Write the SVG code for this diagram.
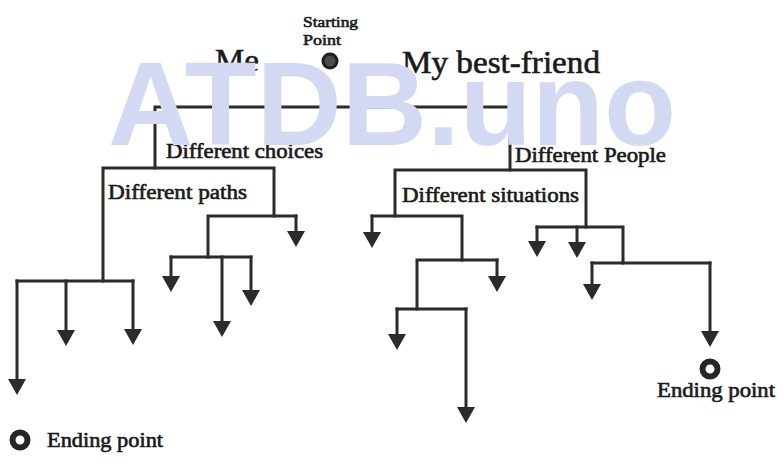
<svg xmlns="http://www.w3.org/2000/svg" width="783" height="466" viewBox="0 0 783 466">
<style>
.bg{fill:#ffffff}
.ln{fill:none;stroke:#2b2b2b;stroke-width:3;stroke-linejoin:miter;stroke-linecap:square}
.ar{marker-end:url(#ah)}
.lbl{font-family:"Liberation Serif","Times New Roman",serif;fill:#1a1a1a;stroke:#1a1a1a;stroke-width:0.6}
.big{font-size:32px}
.mid{font-size:20px}
.sml{font-size:15px}
.ring{fill:none;stroke:#262626;stroke-width:6}
.wm{font-family:"Liberation Sans",Arial,sans-serif;font-size:118px;font-weight:bold;fill:#d3d9f2}
</style>
<defs>
<marker id="ah" markerUnits="userSpaceOnUse" markerWidth="17" markerHeight="18" refX="6" refY="9" orient="auto">
<path d="M0,0 L16,9 L0,18 Z" fill="#2b2b2b"/>
</marker>
</defs>
<rect class="bg" x="0" y="0" width="783" height="466"/>
<g id="connectors">
<path class="ln" d="M155,168 V107 H510 V170"/>
<path class="ln" d="M103,281 V168 H274 V216"/>
<path class="ln" d="M208,257 V216 H296"/>
<path class="ln ar" d="M296,216 V237"/>
<path class="ln" d="M171,257 H251"/>
<path class="ln ar" d="M171,257 V282"/>
<path class="ln ar" d="M222,257 V327"/>
<path class="ln ar" d="M251,257 V296"/>
<path class="ln" d="M17,281 H133"/>
<path class="ln ar" d="M17,281 V385"/>
<path class="ln ar" d="M66,281 V336"/>
<path class="ln ar" d="M133,281 V335"/>
<path class="ln" d="M395,216 V170 H586 V227"/>
<path class="ln" d="M372,216 H462 V260"/>
<path class="ln ar" d="M372,216 V238"/>
<path class="ln" d="M417,309 V260 H497"/>
<path class="ln ar" d="M497,260 V282"/>
<path class="ln" d="M397,309 H466"/>
<path class="ln ar" d="M397,309 V340"/>
<path class="ln ar" d="M466,309 V413"/>
<path class="ln" d="M537,227 H623 V263"/>
<path class="ln ar" d="M537,227 V247"/>
<path class="ln ar" d="M577,227 V248"/>
<path class="ln" d="M592,263 H710"/>
<path class="ln ar" d="M592,263 V290"/>
<path class="ln ar" d="M710,263 V337"/>
</g>
<g id="start">
<circle cx="330" cy="61" r="7" fill="#4a4a4a" stroke="#1e1e1e" stroke-width="3"/>
<text class="lbl sml" x="303" y="27" textLength="55" lengthAdjust="spacingAndGlyphs">Starting</text>
<text class="lbl sml" x="303" y="45" textLength="38" lengthAdjust="spacingAndGlyphs">Point</text>
</g>
<g id="me"><text class="lbl big" x="215" y="71" textLength="44" lengthAdjust="spacingAndGlyphs">Me</text></g>
<g id="friend"><text class="lbl big" x="402" y="73" textLength="198" lengthAdjust="spacingAndGlyphs">My best-friend</text></g>
<g id="choices"><text class="lbl mid" x="166" y="158" textLength="157" lengthAdjust="spacingAndGlyphs">Different choices</text></g>
<g id="paths"><text class="lbl mid" x="108" y="199" textLength="139" lengthAdjust="spacingAndGlyphs">Different paths</text></g>
<g id="people"><text class="lbl mid" x="515" y="162" textLength="151" lengthAdjust="spacingAndGlyphs">Different People</text></g>
<g id="situations"><text class="lbl mid" x="402" y="202" textLength="177" lengthAdjust="spacingAndGlyphs">Different situations</text></g>
<g id="end-left">
<circle class="ring" cx="20" cy="440" r="7.5"/>
<text class="lbl mid" x="47" y="447" textLength="116" lengthAdjust="spacingAndGlyphs">Ending point</text>
</g>
<g id="end-right">
<circle class="ring" cx="710" cy="369" r="7.5"/>
<text class="lbl mid" x="657" y="397" textLength="118" lengthAdjust="spacingAndGlyphs">Ending point</text>
</g>
<text class="wm" x="108" y="145" textLength="568" lengthAdjust="spacingAndGlyphs">ATDB.uno</text>
</svg>
